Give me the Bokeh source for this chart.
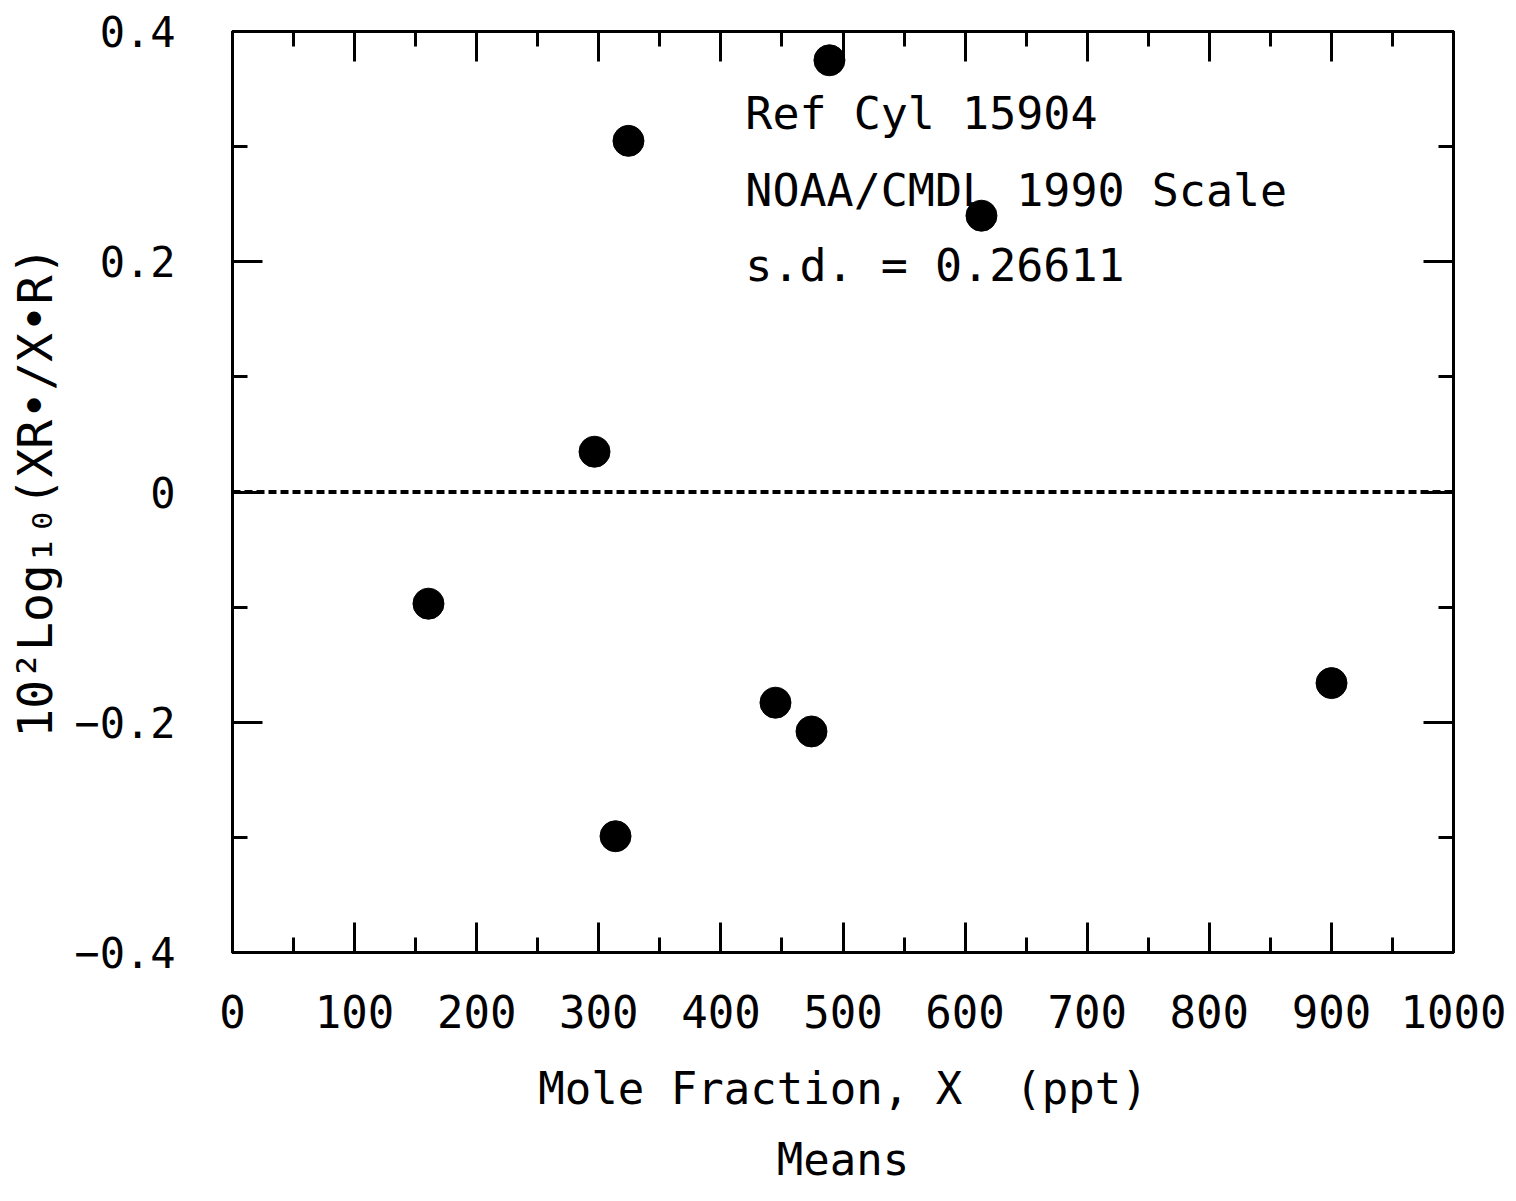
from bokeh.plotting import figure
from bokeh.models import (FixedTicker, LinearAxis, Span, Label, Title, Range1d,
                          CustomJSTickFormatter, ColumnDataSource)
from bokeh.embed import file_html
from bokeh.resources import INLINE

# ---- data ----
mole_fraction = [160.5, 296.5, 313.7, 324.3, 444.7, 474.2, 488.9, 613.4, 900.1]
log_ratio = [-0.097, 0.035, -0.299, 0.305, -0.183, -0.208, 0.375, 0.240, -0.166]

x_ticks = [0, 100, 200, 300, 400, 500, 600, 700, 800, 900, 1000]
x_tick_labels = ["0", "100", "200", "300", "400", "500", "600", "700", "800", "900", "1000"]
x_minor = [50, 150, 250, 350, 450, 550, 650, 750, 850, 950]
y_ticks = [-0.4, -0.2, 0.0, 0.2, 0.4]
y_tick_labels = ["\u22120.4", "\u22120.2", "0", "0.2", "0.4"]
y_minor = [-0.3, -0.1, 0.1, 0.3]

x_title = "Mole Fraction, X \u00a0(ppt)"
y_title = "10\u00b2Log\u2081\u2080(XR\u2022/X\u2022R)"
notes = ["Ref Cyl 15904", "NOAA/CMDL 1990 Scale", "s.d. = 0.26611"]
subtitle = "Means"

FONT = "DejaVu Sans Mono"

p = figure(width=1516, height=1201, output_backend="svg", toolbar_location=None,
           x_range=Range1d(0, 1000), y_range=Range1d(-0.4, 0.4),
           x_axis_location=None, y_axis_location=None,
           min_border_left=232, min_border_right=63, min_border_top=31, min_border_bottom=249)
p.grid.visible = False
p.background_fill_color = "white"
p.border_fill_color = "white"
p.outline_line_color = "black"
p.outline_line_width = 3

xt = FixedTicker(ticks=x_ticks, minor_ticks=x_minor)
yt = FixedTicker(ticks=y_ticks, minor_ticks=y_minor)
blank = CustomJSTickFormatter(code="return '';")


def style(ax, labels=True):
    ax.axis_line_color = "black"
    ax.axis_line_width = 3
    ax.major_tick_line_color = "black"
    ax.major_tick_line_width = 3
    ax.minor_tick_line_color = "black"
    ax.minor_tick_line_width = 3
    ax.major_tick_in = 30
    ax.major_tick_out = 0
    ax.minor_tick_in = 15
    ax.minor_tick_out = 0
    ax.major_label_text_font = FONT
    ax.major_label_text_font_size = "44px"
    ax.major_label_text_color = "black"
    ax.axis_label_text_font = FONT
    ax.axis_label_text_font_size = "44px"
    ax.axis_label_text_font_style = "normal"
    ax.axis_label_text_color = "black"
    if not labels:
        ax.formatter = blank
        ax.major_label_text_font_size = "0px"


xb = LinearAxis(ticker=xt, axis_label=x_title)
style(xb)
xb.major_label_overrides = {t: s for t, s in zip(x_ticks, x_tick_labels)}
xb.major_label_standoff = 42
xb.axis_label_standoff = 32
p.add_layout(xb, "below")

yl = LinearAxis(ticker=yt, axis_label=y_title)
style(yl)
yl.major_label_overrides = {t: s for t, s in zip(y_ticks, y_tick_labels)}
yl.major_label_text_font_size = "42px"
yl.major_label_standoff = 57
yl.axis_label_standoff = 8
yl.axis_label_text_font_size = "48px"
p.add_layout(yl, "left")

xa = LinearAxis(ticker=xt)
style(xa, labels=False)
p.add_layout(xa, "above")

yr = LinearAxis(ticker=yt)
style(yr, labels=False)
p.add_layout(yr, "right")

p.add_layout(Span(location=0, dimension="width", line_color="black",
                  line_width=4, line_dash="8 4"))

src = ColumnDataSource(dict(x=mole_fraction, y=log_ratio))
p.scatter("x", "y", source=src, size=31, marker="circle",
          fill_color="black", line_color="black")

note_y = [0.329, 0.262, 0.197]
for txt, ny in zip(notes, note_y):
    p.add_layout(Label(x=420, y=ny, text=txt, text_font=FONT, text_font_size="45px",
                       text_color="black", text_baseline="alphabetic"))

p.add_layout(Title(text=subtitle, align="center", text_font=FONT, text_font_size="44px",
                   text_font_style="normal", text_color="black", standoff=30), "below")

open("out.html", "w").write(file_html(p, INLINE))
